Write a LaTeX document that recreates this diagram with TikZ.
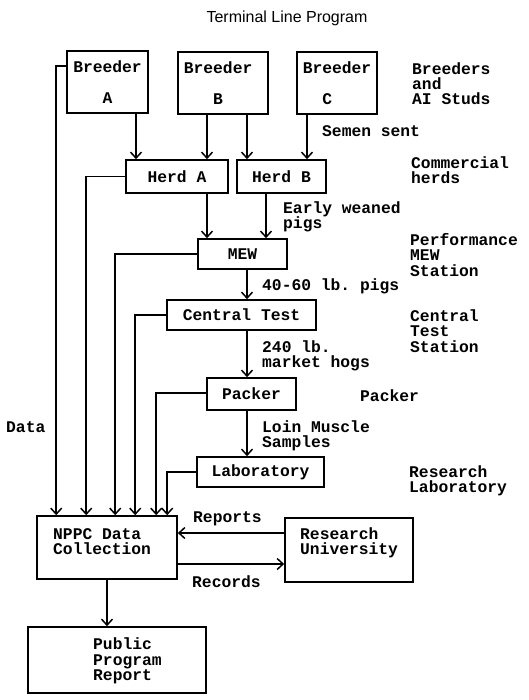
\documentclass[tikz,border=0pt]{standalone}
\usepackage{fontspec}
\setmonofont{Liberation Mono}
\newfontfamily\titlefont{Liberation Sans}
\usetikzlibrary{arrows.meta,calc}
\begin{document}
\begin{tikzpicture}[x=1pt,y=-1pt,
  every node/.style={font=\ttfamily\bfseries\fontsize{16.3}{15.3}\selectfont},
  box/.style={draw,line width=1.6pt,inner sep=0pt,align=center},
  lbl/.style={inner sep=0pt,anchor=west,align=left},
  arr/.style={line width=1.5pt,-{Straight Barb[length=6pt,width=11pt,line width=1.5pt]}}]
\useasboundingbox (0,0) rectangle (529,700);
% title
\node[inner sep=0pt,font=\titlefont\fontsize{16}{16}\selectfont] (title) at (287,18) {Terminal Line Program};
% boxes
\node[box,minimum width=81pt,minimum height=62pt] (brA) at (107.5,82) {Breeder\\[15.5pt]A};
\node[box,minimum width=90pt,minimum height=62pt] (brB) at (223,83) {Breeder\hphantom{x}\\[15.5pt]B\hphantom{x}};
\node[box,minimum width=80pt,minimum height=62pt] (brC) at (337,83) {Breeder\\[15.5pt]C\hphantom{xx}};
\node[box,minimum width=102pt,minimum height=33pt] (herdA) at (177,176.5) {Herd A};
\node[box,minimum width=89pt,minimum height=33pt] (herdB) at (281.5,176.5) {Herd B};
\node[box,minimum width=89pt,minimum height=30pt] (mew) at (242.5,254) {MEW};
\node[box,minimum width=149pt,minimum height=30pt] (ct) at (241.5,315) {Central Test};
\node[box,minimum width=89pt,minimum height=32pt] (packer) at (251.5,394) {Packer};
\node[box,minimum width=127pt,minimum height=30pt] (lab) at (260.5,472) {Laboratory};
\node[box,minimum width=140pt,minimum height=63pt] (nppc) at (107,547.5) {};
\node[lbl] (nppcT) at (53,541.5) {NPPC Data\\Collection};
\node[box,minimum width=128pt,minimum height=64pt] (ru) at (349,550) {};
\node[lbl] (ruT) at (300,542.5) {Research\\University};
\node[box,minimum width=178pt,minimum height=66pt] (pub) at (117,660) {};
\node[lbl] (pubT) at (93,661) {Public\\Program\\Report};
% side labels
\node[lbl] (l1) at (412,83.7) {Breeders\\and\\AI Studs};
\node[lbl] (l2) at (322,131) {Semen sent};
\node[lbl] (l3) at (411,170) {Commercial\\herds};
\node[lbl] (l4) at (283,217) {Early weaned\\pigs};
\node[lbl] (l5) at (410,255) {Performance\\MEW\\Station};
\node[lbl] (l6) at (262,286) {40-60 lb. pigs};
\node[lbl] (l7) at (410,331) {Central\\Test\\Station};
\node[lbl] (l8) at (262,356) {240 lb.\\market hogs};
\node[lbl] (l9) at (360,396) {Packer};
\node[lbl] (l10) at (262,435.5) {Loin Muscle\\Samples};
\node[lbl] (l11) at (409,480.5) {Research\\Laboratory};
\node[lbl] (l12) at (6,427) {Data};
\node[lbl] (l13) at (193,519) {Reports};
\node[lbl] (l14) at (192,582) {Records};
% start points of connectors
\coordinate (s1) at ($(brA.south)+(28.5,0)$);
\coordinate (s2) at ($(brB.south)+(-16,0)$);
\coordinate (s3) at ($(brB.south)+(24,0)$);
\coordinate (s4) at ($(brC.south)+(-30,0)$);
\coordinate (s5) at ($(herdA.south)+(30,0)$);
\coordinate (s6) at ($(herdB.south)+(-15.5,0)$);
\coordinate (s7) at ($(mew.south)+(4.5,0)$);
\coordinate (s8) at ($(ct.south)+(5.5,0)$);
\coordinate (s9) at ($(packer.south)+(-4.5,0)$);
\coordinate (d1) at ($(brA.west)+(0,-16)$);
\coordinate (d5) at ($(packer.west)+(0,-1)$);
\coordinate (e1) at ($(nppc.north west)+(20,0)$);
\coordinate (e2) at ($(nppc.north west)+(50,0)$);
\coordinate (e3) at ($(nppc.north west)+(79,0)$);
\coordinate (e4) at ($(nppc.north west)+(99,0)$);
\coordinate (e5) at ($(nppc.north west)+(120,0)$);
\coordinate (e6) at ($(nppc.north west)+(131,0)$);
\coordinate (rep) at ($(ru.west)+(0,-17)$);
\coordinate (rec) at ($(nppc.east)+(0,16.5)$);
% flow arrows
\draw[arr] (s1) -- (s1 |- herdA.north);
\draw[arr] (s2) -- (s2 |- herdA.north);
\draw[arr] (s3) -- (s3 |- herdB.north);
\draw[arr] (s4) -- (s4 |- herdB.north);
\draw[arr] (s5) -- (s5 |- mew.north);
\draw[arr] (s6) -- (s6 |- mew.north);
\draw[arr] (s7) -- (s7 |- ct.north);
\draw[arr] (s8) -- (s8 |- packer.north);
\draw[arr] (s9) -- (s9 |- lab.north);
% data lines
\draw[arr] (d1) -| (e1);
\draw[arr] (herdA.west) -| (e2);
\draw[arr] (mew.west) -| (e3);
\draw[arr] (ct.west) -| (e4);
\draw[arr] (d5) -| (e5);
\draw[arr] (lab.west) -| (e6);
% reports / records
\draw[arr] (rep) -- (rep -| nppc.east);
\draw[arr] (rec) -- (rec -| ru.west);
\draw[arr] (nppc.south) -- (nppc.south |- pub.north);
\end{tikzpicture}
\end{document}
